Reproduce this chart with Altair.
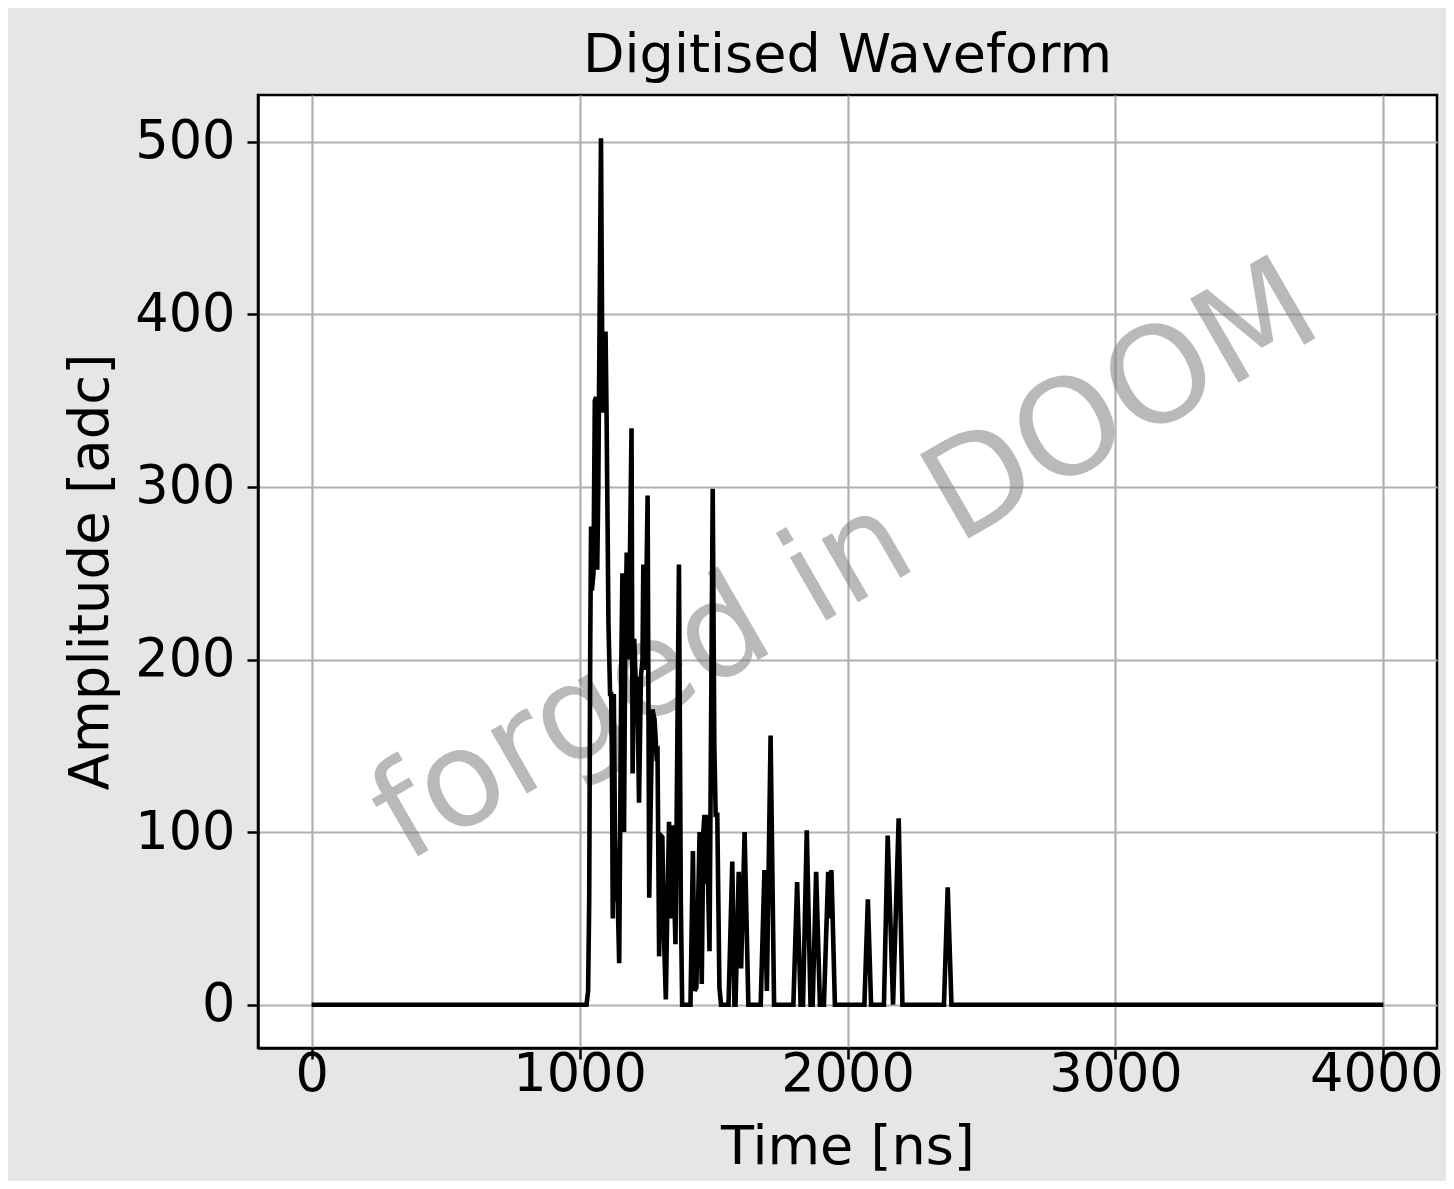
import altair as alt
import pandas as pd

# Waveform vertices (time in ns, amplitude in adc)
time_ns = [
    0, 1026, 1032, 1036, 1040, 1043, 1046, 1052, 1057, 1062, 1066, 1070, 1080,
    1086, 1090, 1097, 1101, 1108, 1114, 1118, 1121, 1124, 1128, 1132, 1138, 1141,
    1148, 1156, 1160, 1166, 1170, 1176, 1180, 1185, 1194, 1198, 1204, 1210, 1215,
    1222, 1229, 1235, 1238, 1245, 1254, 1260, 1266, 1272, 1280, 1287, 1291, 1297,
    1303, 1309, 1315, 1322, 1328, 1334, 1338, 1342, 1346, 1352, 1358, 1371, 1378,
    1383, 1414, 1423, 1430, 1436, 1448, 1453, 1456, 1462, 1466, 1470, 1474, 1485,
    1497, 1503, 1508, 1514, 1522, 1528, 1556, 1570, 1578, 1582, 1594, 1603, 1616,
    1630, 1676, 1690, 1699, 1713, 1726, 1798, 1812, 1825, 1834, 1848, 1862, 1870,
    1883, 1897, 1912, 1928, 1934, 1940, 1953, 2063, 2076, 2088, 2136, 2150, 2170,
    2191, 2205, 2360, 2374, 2388, 4000,
]
amplitude = [
    0, 0, 8, 60, 210, 277, 240, 250, 350, 352, 252, 300, 502,
    343, 370, 390, 340, 220, 180, 180, 140, 50, 180, 100, 60, 70,
    24, 200, 250, 100, 200, 262, 200, 220, 334, 134, 212, 185, 190,
    117, 190, 200, 255, 194, 295, 62, 120, 171, 165, 145, 146, 28,
    98, 97, 40, 3, 60, 106, 80, 50, 104, 70, 35, 255, 60,
    0, 0, 89, 8, 10, 100, 40, 12, 100, 110, 70, 110, 31,
    299, 150, 110, 110, 10, 0, 0, 83, 0, 0, 77, 21, 100,
    0, 0, 78, 8, 156, 0, 0, 71, 0, 0, 101, 0, 0,
    77, 0, 0, 77, 50, 78, 0, 0, 61, 0, 0, 98, 0,
    108, 0, 0, 68, 0, 0,
]

x_ticks = [0, 1000, 2000, 3000, 4000]
y_ticks = [0, 100, 200, 300, 400, 500]

df = pd.DataFrame({"t": time_ns, "a": amplitude, "order": list(range(len(time_ns)))})

FONT = "DejaVu Sans"

x_enc = alt.X(
    "t:Q",
    scale=alt.Scale(domain=[-200, 4200], nice=False, zero=False),
    axis=alt.Axis(
        title="Time [ns]", values=x_ticks, format="d",
        labelFontSize=52.5, titleFontSize=54, tickSize=11, labelPadding=-10,
        titlePadding=20,
        labelOffset={"condition": {"test": "datum.value === 4000", "value": -7}, "value": 0},
    ),
)
y_enc = alt.Y(
    "a:Q",
    scale=alt.Scale(domain=[-25.1, 527.1], nice=False, zero=False),
    axis=alt.Axis(
        title="Amplitude [adc]", values=y_ticks, format="d",
        labelFontSize=52.5, titleFontSize=54.5, tickSize=11, labelPadding=12,
        titlePadding=16,
    ),
)

line = alt.Chart(df).mark_line(color="black", strokeWidth=4.6, clip=True).encode(
    x=x_enc, y=y_enc, order="order:Q"
)

watermark = alt.Chart(pd.DataFrame({"label": ["forged in DOOM"]})).mark_text(
    font=FONT, fontSize=133, color="#808080", opacity=0.55, angle=330,
    align="center", baseline="middle",
).encode(text="label:N", x=alt.value(588), y=alt.value(468))

chart = (
    alt.layer(watermark, line)
    .properties(
        width=1179,
        height=953,
        title=alt.TitleParams(
            "Digitised Waveform", fontSize=54, font=FONT, fontWeight="normal",
            color="black", anchor="middle", offset=12,
        ),
        background="#e6e6e6",
        autosize=alt.AutoSizeParams(type="none"),
        padding={"left": 250, "top": 87, "right": 9, "bottom": 133},
    )
    .configure_view(fill="white", stroke="black", strokeWidth=2.5)
    .configure_axis(
        labelFont=FONT, titleFont=FONT, labelColor="black", titleColor="black",
        titleFontWeight="normal", domainColor="black", domainWidth=2.5,
        tickColor="black", tickWidth=2.5, gridColor="#b0b0b0", gridWidth=2.2,
        grid=True,
    )
)

chart.save("out.html", embed_options={"renderer": "svg", "actions": False})
